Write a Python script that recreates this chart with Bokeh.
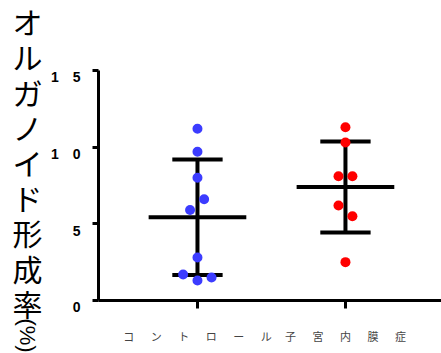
import math
from bokeh.plotting import figure
from bokeh.models import Range1d, Label, FixedTicker
from bokeh.embed import file_html
from bokeh.resources import INLINE

# ---- data ----
categories = ["コントロール", "子宮内膜症"]
control_values = [11.2, 9.7, 8.0, 6.6, 5.9, 2.8, 1.7, 1.5, 1.3]
endo_values = [11.3, 10.3, 8.1, 8.1, 6.2, 5.5, 2.5]
group_means = [5.43, 7.4]
group_sds = [3.77, 2.97]
y_ticks = [0, 5, 10, 15]
y_tick_labels = ["0", "5", "1 0", "1 5"]
y_label = "オルガノイド形成率"
y_unit = "(%)"

# ---- layout / style (not data) ----
control_jitter = [0, 0, 0, 0.045, -0.05, 0, -0.097, 0.095, 0]
endo_jitter = [0, 0, -0.047, 0.047, -0.047, 0.047, 0]
cat_x = [i + 1 for i in range(len(categories))]
MEAN_HALF = 0.33
CAP_HALF = 0.17
X_AXIS_AT = 0.331          # x value where the y axis is drawn
X_START, X_END = -0.331, 2.649
Y_START, Y_END = -3.457, 19.565
H = 353

p = figure(width=441, height=H,
           x_range=Range1d(X_START, X_END), y_range=Range1d(Y_START, Y_END),
           output_backend="svg", toolbar_location=None,
           min_border_left=0, min_border_right=0,
           min_border_top=0, min_border_bottom=0)

p.xgrid.visible = False
p.ygrid.visible = False
p.outline_line_color = None
p.background_fill_color = "white"
p.border_fill_color = "white"

# mean and SD bars
x0, x1, y0, y1 = [], [], [], []
for cx, m, s in zip(cat_x, group_means, group_sds):
    x0 += [cx - MEAN_HALF, cx - CAP_HALF, cx - CAP_HALF, cx]
    x1 += [cx + MEAN_HALF, cx + CAP_HALF, cx + CAP_HALF, cx]
    y0 += [m, m + s, m - s, m - s]
    y1 += [m, m + s, m - s, m + s]
p.segment(x0=x0, y0=y0, x1=x1, y1=y1, line_color="black", line_width=4)

# points
p.scatter(x=[cat_x[0] + j for j in control_jitter], y=control_values,
          size=10, fill_color="#3c3cff", line_color=None)
p.scatter(x=[cat_x[1] + j for j in endo_jitter], y=endo_values,
          size=10, fill_color="#ff0000", line_color=None)

# x axis
xa = p.xaxis[0]
xa.fixed_location = 0
xa.bounds = (X_AXIS_AT, X_END)
xa.ticker = FixedTicker(ticks=cat_x)
xa.major_label_overrides = {cx: "\u3000\u2002".join(list(c)) for cx, c in zip(cat_x, categories)}
xa.axis_line_width = 3
xa.major_tick_line_width = 3
xa.major_tick_out = 8
xa.major_tick_in = 0
xa.minor_tick_line_color = None
xa.major_label_standoff = 20
xa.major_label_text_font = "Noto Sans CJK JP"
xa.major_label_text_font_size = "11px"
xa.major_label_text_color = "#444444"

# y axis
ya = p.yaxis[0]
ya.fixed_location = X_AXIS_AT
ya.bounds = (0, 15)
ya.ticker = FixedTicker(ticks=y_ticks)
ya.major_label_overrides = {t: "\n" + lab.replace(" ", "\u2003") for t, lab in zip(y_ticks, y_tick_labels)}
ya.axis_line_width = 3
ya.major_tick_line_width = 3
ya.major_tick_out = 6
ya.major_tick_in = 0
ya.minor_tick_line_color = None
ya.major_label_standoff = 12
ya.major_label_text_font = "Liberation Sans"
ya.major_label_text_font_style = "bold"
ya.major_label_text_font_size = "14px"
ya.major_label_text_line_height = 0.85
ya.major_label_text_color = "black"

# vertical (upright) y title and its rotated unit
title = Label(x=27, y=H - 161.5, x_units="screen", y_units="screen",
              text="\n".join(list(y_label)), text_align="center", text_baseline="middle",
              text_font="Noto Sans CJK JP", text_font_size="30px",
              text_line_height=0.8, text_color="black")
p.add_layout(title)

unit = Label(x=27, y=H - 335, x_units="screen", y_units="screen", text=y_unit,
             angle=-math.pi / 2, text_align="center", text_baseline="middle",
             text_font="Liberation Sans", text_font_size="22px", text_color="black")
p.add_layout(unit)

open("out.html", "w").write(file_html(p, INLINE))
